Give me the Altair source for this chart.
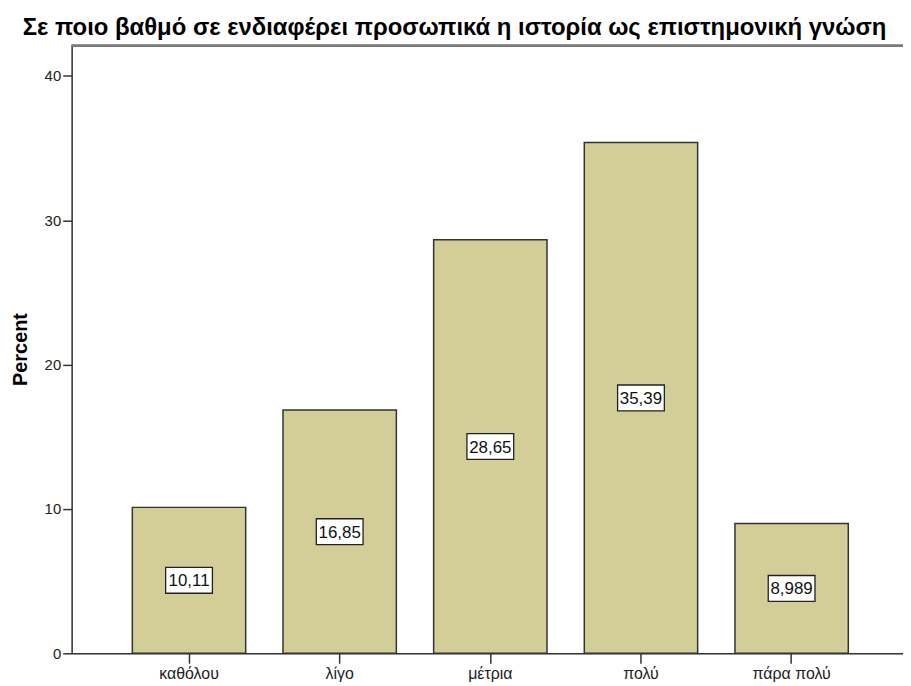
import altair as alt
import pandas as pd

categories = ["καθόλου", "λίγο", "μέτρια", "πολύ", "πάρα πολύ"]
percents = [10.11, 16.85, 28.65, 35.39, 8.989]
labels = ["10,11", "16,85", "28,65", "35,39", "8,989"]
y_ticks = [0, 10, 20, 30, 40]

df = pd.DataFrame({"cat": categories, "pct": percents, "lab": labels})
df["mid"] = df["pct"] / 2

W, H = 836, 611
FONT = "Liberation Sans"

xscale = alt.Scale(domain=categories, paddingInner=0.2475, paddingOuter=0.383, align=0.526)
yscale = alt.Scale(domain=[0, 42.1], nice=False, zero=True)

base = alt.Chart(df)

bars = base.mark_bar(fill="#d3ce97", stroke="#333333", strokeWidth=1.5).encode(
    x=alt.X("cat:N", scale=xscale, sort=categories,
            axis=alt.Axis(title=None, labelAngle=0, tickSize=10, labelFontSize=16,
                          labelFont=FONT, labelColor="#222222", labelPadding=2,
                          domainColor="#333333", tickColor="#333333", domainWidth=1.5,
                          tickWidth=1.5)),
    y=alt.Y("pct:Q", scale=yscale,
            axis=alt.Axis(values=y_ticks, grid=False, tickSize=9, labelFontSize=15,
                          labelFont=FONT, labelColor="#222222", labelPadding=2,
                          domainColor="#333333", tickColor="#333333", domainWidth=1.5,
                          tickWidth=1.5,
                          title="Percent", titleFont=FONT, titleFontSize=20,
                          titleFontWeight="bold", titleColor="#000000",
                          titleAngle=270, titleX=-51, titleY=305,
                          titleAlign="center", titleBaseline="middle")),
)

box_path = "M-1,-0.553L1,-0.553L1,0.553L-1,0.553Z"
boxes = base.mark_point(shape=box_path, size=2209, filled=True, fill="white",
                        stroke="#222222", strokeWidth=1.3, opacity=1).encode(
    x=alt.X("cat:N", scale=xscale, sort=categories),
    y=alt.Y("mid:Q", scale=yscale),
)

texts = base.mark_text(font=FONT, fontSize=17, color="#111111", baseline="middle",
                       align="center", dy=1).encode(
    x=alt.X("cat:N", scale=xscale, sort=categories),
    y=alt.Y("mid:Q", scale=yscale),
    text="lab:N",
)

top_border = alt.Chart(df).mark_rule(color="#7a7a7a", strokeWidth=2).encode(
    x=alt.value(0), x2=alt.value(W), y=alt.value(0)
)

chart = alt.layer(bars, boxes, texts, top_border).properties(
    width=W, height=H,
    title=alt.TitleParams(
        "Σε ποιο βαθμό σε ενδιαφέρει προσωπικά  η ιστορία ως επιστημονική γνώση",
        font=FONT, fontSize=24, fontWeight="bold", color="#000000",
        anchor="middle", dx=-33, offset=5),
    autosize=alt.AutoSizeParams(type="none"),
    padding={"left": 64, "top": 36, "right": 0, "bottom": 30},
).configure_view(fill="#f0f0f0", stroke=None).configure(background="white")

chart.save("out.html", embed_options={"renderer": "svg", "actions": False})
